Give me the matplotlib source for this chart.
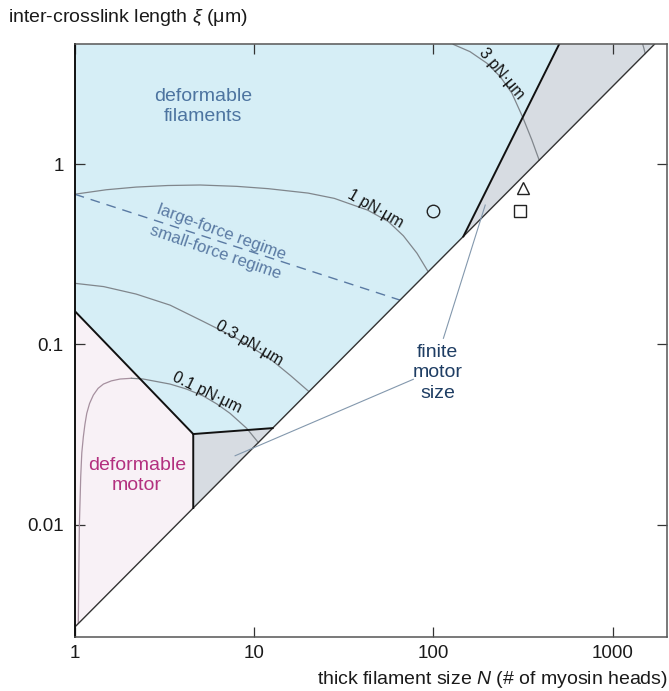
import matplotlib.pyplot as plt
from matplotlib.ticker import NullLocator

plt.rcParams['font.family'] = ['Liberation Sans', 'DejaVu Sans']
plt.rcParams['mathtext.fontset'] = 'custom'
plt.rcParams['mathtext.it'] = 'Liberation Sans:italic'
plt.rcParams['mathtext.rm'] = 'Liberation Sans'

# axis ranges
n_lim = [1, 2000]
xi_lim = [0.00238, 4.61]

# regions (N, xi)
blue_n = [1, 1, 4.58, 12.7, 147, 502]
blue_xi = [4.61, 0.153, 0.0318, 0.0343, 0.397, 4.61]
pink_n = [1, 4.58, 4.58, 1]
pink_xi = [0.153, 0.0318, 0.01237, 0.0027]
grey_lo_n = [4.58, 12.7, 4.58]
grey_lo_xi = [0.0318, 0.0343, 0.01237]
grey_hi_n = [147, 502, 1707]
grey_hi_xi = [0.397, 4.61, 4.61]

# boundaries
diag_n = [1, 1707]
diag_xi = [0.0027, 4.61]
motor_n = [1, 4.58, 4.58]
motor_xi = [0.153, 0.0318, 0.01237]
cap_n = [4.58, 12.7]
cap_xi = [0.0318, 0.0343]
steep_n = [147, 502]
steep_xi = [0.397, 4.61]
regime_n = [1, 65]
regime_xi = [0.68, 0.176]

# iso-lines
c01_n = [1.047, 1.061, 1.080, 1.095, 1.117, 1.14, 1.167, 1.21, 1.27, 1.35,
         1.445, 1.6, 1.789, 2.07]
c01_xi = [0.00284, 0.00973, 0.01845, 0.025, 0.0307, 0.036, 0.0414, 0.047,
          0.0523, 0.057, 0.0602, 0.0627, 0.0642, 0.0648]
c01b_n = [2.07, 2.41, 3.40, 4.2, 5.21, 6.2, 7.35, 9.1, 10.57]
c01b_xi = [0.0648, 0.0642, 0.0602, 0.0565, 0.0517, 0.0467, 0.0414, 0.0342, 0.0285]
c03_n = [1.0, 1.45, 2.2, 3.4, 5.2, 8.0, 12.3, 16, 20.1]
c03_xi = [0.218, 0.209, 0.19, 0.165, 0.134, 0.108, 0.083, 0.067, 0.055]
c1_n = [1.0, 1.5, 2.2, 3.3, 5.0, 8.0, 12, 20, 28, 43, 56, 68, 81, 93]
c1_xi = [0.68, 0.72, 0.745, 0.76, 0.765, 0.752, 0.73, 0.69, 0.645, 0.555,
         0.48, 0.40, 0.32, 0.255]
c3_n = [129, 160, 199, 236, 274, 315, 354, 389]
c3_xi = [4.61, 4.2, 3.62, 3.05, 2.47, 1.815, 1.36, 1.05]
c10_n = [1470, 1495, 1517]
c10_xi = [4.61, 4.35, 4.1]

# experiments
circ_n, circ_xi = [100], [0.55]
tri_n, tri_xi = [315], [0.733]
sq_n, sq_xi = [305], [0.551]

# "finite motor size" pointers
ptr1_n = [113.7, 194.5]
ptr1_xi = [0.108, 0.592]
ptr2_n = [77.3, 7.84]
ptr2_xi = [0.064, 0.0241]

x_ticks = [1, 10, 100, 1000]
x_labels = ['1', '10', '100', '1000']
y_ticks = [0.01, 0.1, 1]
y_labels = ['0.01', '0.1', '1']

fig = plt.figure(figsize=(6.69, 6.91), dpi=100)
ax = fig.add_axes([0.1117, 0.0781, 0.8849, 0.8577])
ax.set_xscale('log')
ax.set_yscale('log')
ax.set_xlim(n_lim)
ax.set_ylim(xi_lim)

ax.fill(blue_n, blue_xi, color='#d6eef6', lw=0)
ax.fill(pink_n, pink_xi, color='#f8f1f6', lw=0)
ax.fill(grey_lo_n, grey_lo_xi, color='#d7dce2', lw=0)
ax.fill(grey_hi_n, grey_hi_xi, color='#d7dce2', lw=0)

curve_col = '#80868c'
ax.plot(c01_n, c01_xi, color='#a6909f', lw=0.9)
ax.plot(c01b_n, c01b_xi, color=curve_col, lw=0.9)
ax.plot(c03_n, c03_xi, color=curve_col, lw=0.9)
ax.plot(c1_n, c1_xi, color=curve_col, lw=0.9)
ax.plot(c3_n, c3_xi, color=curve_col, lw=0.9)
ax.plot(c10_n, c10_xi, color=curve_col, lw=0.9)

ax.plot(regime_n, regime_xi, color='#5a7aa3', lw=1, dashes=(7, 5))

ax.plot(diag_n, diag_xi, color='#333333', lw=1)
ax.plot(motor_n, motor_xi, color='#111111', lw=1.4)
ax.plot(cap_n, cap_xi, color='#111111', lw=1.4)
ax.plot(steep_n, steep_xi, color='#111111', lw=1.4)

ax.plot(ptr1_n, ptr1_xi, color='#8398ad', lw=0.8)
ax.plot(ptr2_n, ptr2_xi, color='#8398ad', lw=0.8)

mk = dict(mfc='none', mec='#222222', ms=9, mew=1, ls='none')
ax.plot(circ_n, circ_xi, 'o', **mk)
ax.plot(tri_n, tri_xi, '^', **mk)
ax.plot(sq_n, sq_xi, 's', **mk)

lab = dict(ha='center', va='center', rotation_mode='anchor', fontsize=11.5, color='#111111')
ax.text(47.3, 0.561, '1 pN·μm', rotation=-30, **lab)
ax.text(9.41, 0.1013, '0.3 pN·μm', rotation=-30, **lab)
ax.text(5.49, 0.0542, '0.1 pN·μm', rotation=-26, **lab)
ax.text(240.6, 3.185, '3 pN·μm', rotation=-50, **lab)

reg = dict(ha='center', va='center', rotation_mode='anchor', fontsize=12, color='#5a7aa3')
ax.text(6.6, 0.421, 'large-force regime', rotation=-20, **reg)
ax.text(6.11, 0.324, 'small-force regime', rotation=-19, **reg)

ax.text(5.19, 2.08, 'deformable\nfilaments', ha='center', va='center',
        fontsize=14, color='#4d74a0', linespacing=1.25)
ax.text(2.22, 0.0187, 'deformable\nmotor', ha='center', va='center',
        fontsize=14, color='#b3307f', linespacing=1.25)
ax.text(105.8, 0.0695, 'finite\nmotor\nsize', ha='center', va='center',
        fontsize=14, color='#1e3d63', linespacing=1.25)

ax.set_xticks(x_ticks)
ax.set_xticklabels(x_labels)
ax.set_yticks(y_ticks)
ax.set_yticklabels(y_labels)
ax.xaxis.set_minor_locator(NullLocator())
ax.yaxis.set_minor_locator(NullLocator())
ax.tick_params(direction='in', length=7, width=0.9, color='#333333',
               top=True, right=True, labelsize=13.5, labelcolor='#1a1a1a')
ax.tick_params(axis='x', pad=6)
ax.tick_params(axis='y', pad=8)

for side in ['top', 'right', 'bottom']:
    ax.spines[side].set_color('#555555')
    ax.spines[side].set_linewidth(1.1)
ax.spines['left'].set_color('#111111')
ax.spines['left'].set_linewidth(1.4)

fig.text(0.0125, 0.975, r'inter-crosslink length $\xi$ (μm)', fontsize=14,
         ha='left', va='center', color='#1a1a1a')
fig.text(0.998, 0.016, r'thick filament size $N$ (# of myosin heads)', fontsize=14,
         ha='right', va='center', color='#1a1a1a')

fig.savefig('out.png', dpi=100)
